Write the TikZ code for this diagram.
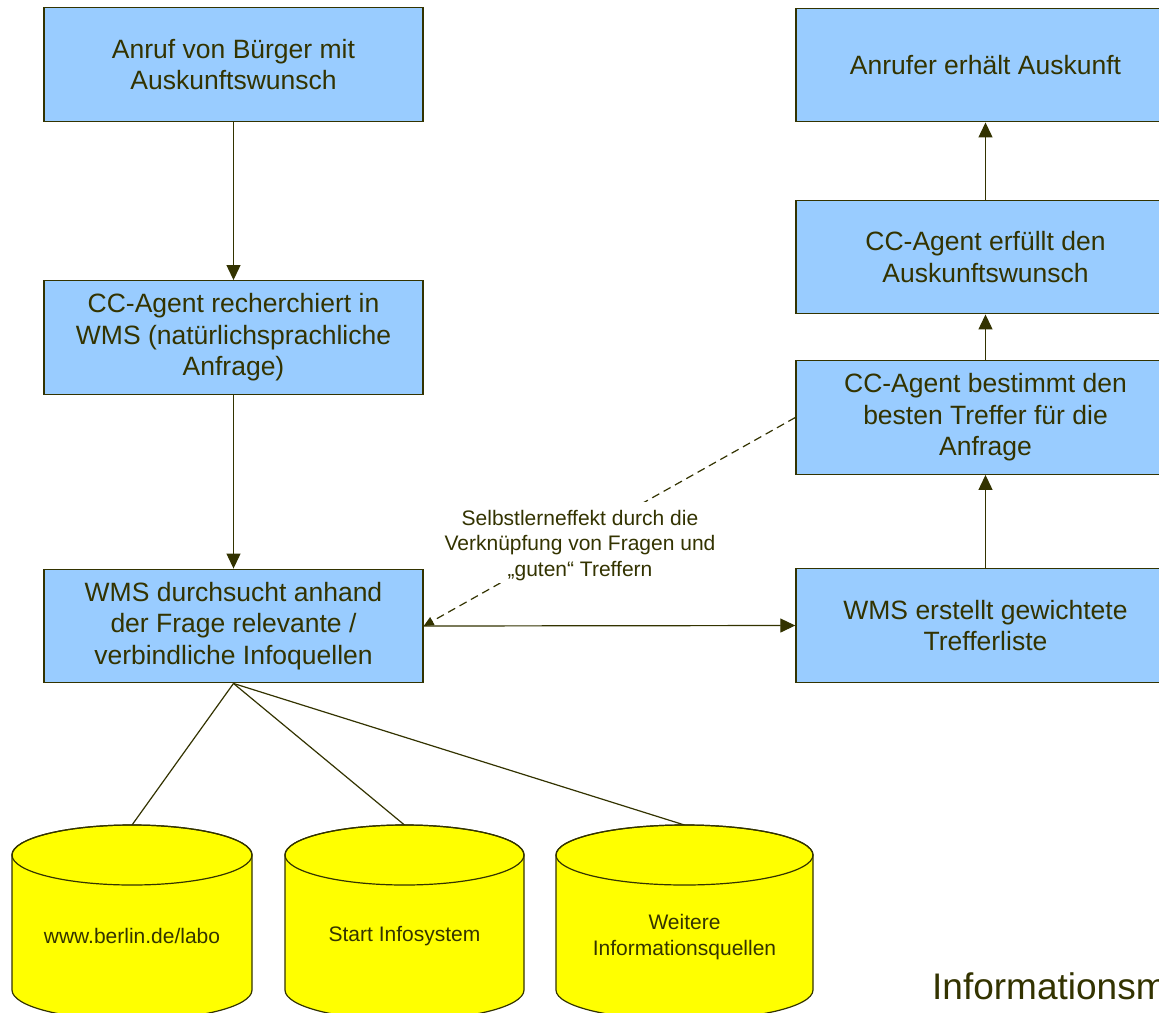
\documentclass[tikz,border=0pt]{standalone}
\usepackage{fontspec}
\setmainfont{Liberation Sans}
\usetikzlibrary{arrows.meta}
\definecolor{ink}{HTML}{333300}
\definecolor{boxblue}{HTML}{99CCFF}
\definecolor{cylyellow}{HTML}{FFFF00}
\newcommand\boxfont{\fontsize{26.5}{31.5}\selectfont}
\newcommand\smallfont{\fontsize{21}{25.5}\selectfont}
\newcommand\bigfont{\fontsize{37}{44}\selectfont}
\newcommand\drawcyl[2]{%
  \filldraw[cylbody] (#1-#2,855) -- (#1-#2,990)
    arc[start angle=180,end angle=0,x radius=#2,y radius=30] -- (#1+#2,855)
    arc[start angle=0,end angle=-180,x radius=#2,y radius=30] -- cycle;
  \draw[cylbody,fill=none] (#1,855) ellipse[x radius=#2,y radius=30];}
\begin{document}
\begin{tikzpicture}[x=1pt,y=-1pt,
  box/.style={draw=ink, fill=boxblue, line width=1.4pt, minimum width=379pt,
    minimum height=113.5pt, align=center, text=ink, font=\boxfont, inner sep=0pt},
  arr/.style={draw=ink, line width=1.2pt, -{Triangle[length=15pt,width=14pt]}},
  dasharr/.style={draw=ink, line width=1.2pt, dash pattern=on 8pt off 5pt,
    -{Triangle[length=10pt,width=9pt]}},
  conn/.style={draw=ink, line width=1.2pt},
  cylbody/.style={draw=ink, fill=cylyellow, line width=1.2pt},
  cyltext/.style={text=ink, font=\smallfont, align=center, inner sep=0pt},
  lbl/.style={text=ink, font=\smallfont, align=center, fill=white, inner xsep=2pt, inner ysep=2pt}]
\clip (0,0) rectangle (1159,1012);
\fill[white] (0,0) rectangle (1159,1012);

% left column
\node[box] (b1) at (233.5,64.5) {Anruf von Bürger mit\\Auskunftswunsch};
\node[box] (b2) at (233.5,337.5) {CC-Agent recherchiert in\\WMS (natürlichsprachliche\\Anfrage)};
\node[box] (b3) at (233.5,626) {WMS durchsucht anhand\\der Frage relevante /\\verbindliche Infoquellen};

% right column
\node[box] (r1) at (985.5,65) {Anrufer erhält Auskunft};
\node[box] (r2) at (985.5,257) {CC-Agent erfüllt den\\Auskunftswunsch};
\node[box] (r3) at (985.5,417.5) {CC-Agent bestimmt den\\besten Treffer für die\\Anfrage};
\node[box] (r4) at (985.5,625.5) {WMS erstellt gewichtete\\Trefferliste};

% arrows
\draw[arr] (b1) -- (b2);
\draw[arr] (b2) -- (b3);
\draw[arr] (b3.east) -- (r4.west);
\draw[arr] (r4) -- (r3);
\draw[arr] (r3) -- (r2);
\draw[arr] (r2) -- (r1);
\draw[dasharr] (r3.west) -- (b3.east);
\node[lbl] (lab) at (580,542.5) {\rule{0pt}{21.3pt}Selbstlerneffekt durch die\\Verknüpfung von Fragen und\\„guten“ Treffern};

% cylinders
\coordinate (c1) at (132,825);
\coordinate (c2) at (404.5,825);
\coordinate (c3) at (684.5,825);
\draw[conn] (b3.south) -- (c1);
\draw[conn] (b3.south) -- (c2);
\draw[conn] (b3.south) -- (c3);
\drawcyl{132}{120}
\drawcyl{404.5}{119.5}
\drawcyl{684.5}{128.5}
\node[cyltext] (t1) at (132,936) {www.berlin.de/labo};
\node[cyltext] (t2) at (404.5,936) {Start Infosystem};
\node[cyltext] (t3) at (684.5,937) {Weitere\\Informationsquellen};

% bottom right title fragment
\node[text=ink, font=\bigfont, anchor=base west, inner sep=0pt] (info) at (932,999) {Informationsm};
\end{tikzpicture}
\end{document}
